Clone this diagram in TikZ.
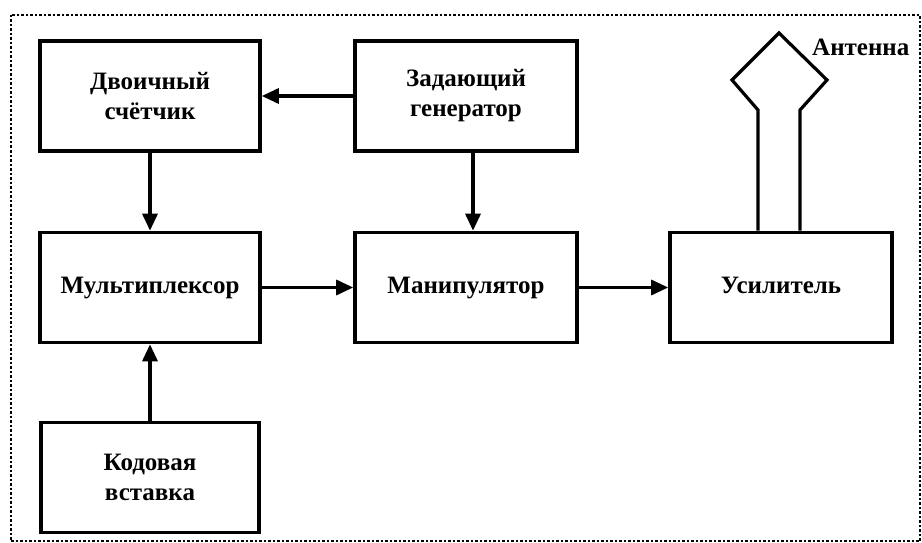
\documentclass[tikz,border=0pt]{standalone}
\usepackage{fontspec}
\setmainfont{Liberation Serif}
\usetikzlibrary{arrows.meta}
\begin{document}
\begin{tikzpicture}[x=1pt,y=-1pt,
  block/.style={draw, line width=3.6pt, minimum width=#1, minimum height=110pt,
    align=center, inner sep=0pt, font=\fontsize{25}{30}\selectfont\bfseries},
  link/.style={line width=3.2pt, -{Triangle[length=17pt,width=15pt]}},
  frame/.style={line width=1.8pt, dash pattern=on 2.5pt off 2pt}]
  \useasboundingbox (0,0) rectangle (922,543);
  % outer frame
  \draw[frame] (11,15) rectangle (920,541);
  % blocks
  \node[block=220pt] (cnt) at (150,96) {Двоичный\\счётчик};
  \node[block=222pt] (gen) at (466,96) {Задающий\\генератор};
  \node[block=220pt] (mux) at (150,287.5) {\strut Мультиплексор};
  \node[block=222pt] (man) at (466,287.5) {\strut Манипулятор};
  \node[block=222pt] (amp) at (781,287.5) {\strut Усилитель};
  \node[block=218pt] (code) at (150,477.5) {Кодовая\\вставка};
  % signal paths
  \draw[link] (gen.west) -- (cnt.east);
  \draw[link] (cnt.south) -- (mux.north);
  \draw[link] ([xshift=7pt]gen.south) -- ([xshift=7pt]man.north);
  \draw[link] (code.north) -- (mux.south);
  \draw[link] (mux.east) -- (man.west);
  \draw[link] (man.east) -- (amp.west);
  % antenna
  \coordinate (legL) at ([xshift=-23pt]amp.north);
  \coordinate (legR) at ([xshift=19pt]amp.north);
  \coordinate (kneeL) at (758,110);
  \coordinate (kneeR) at (800,110);
  \coordinate (tipL) at (732,80);
  \coordinate (tipR) at (827,80);
  \coordinate (top) at (779,33);
  \draw[line width=3.2pt, line join=miter]
    (legL) -- (kneeL) -- (tipL) -- (top) -- (tipR) -- (kneeR) -- (legR);
  \node[anchor=west, inner sep=0pt, font=\fontsize{25}{30}\selectfont\bfseries]
    (antlabel) at (812,47) {Антенна};
\end{tikzpicture}
\end{document}
